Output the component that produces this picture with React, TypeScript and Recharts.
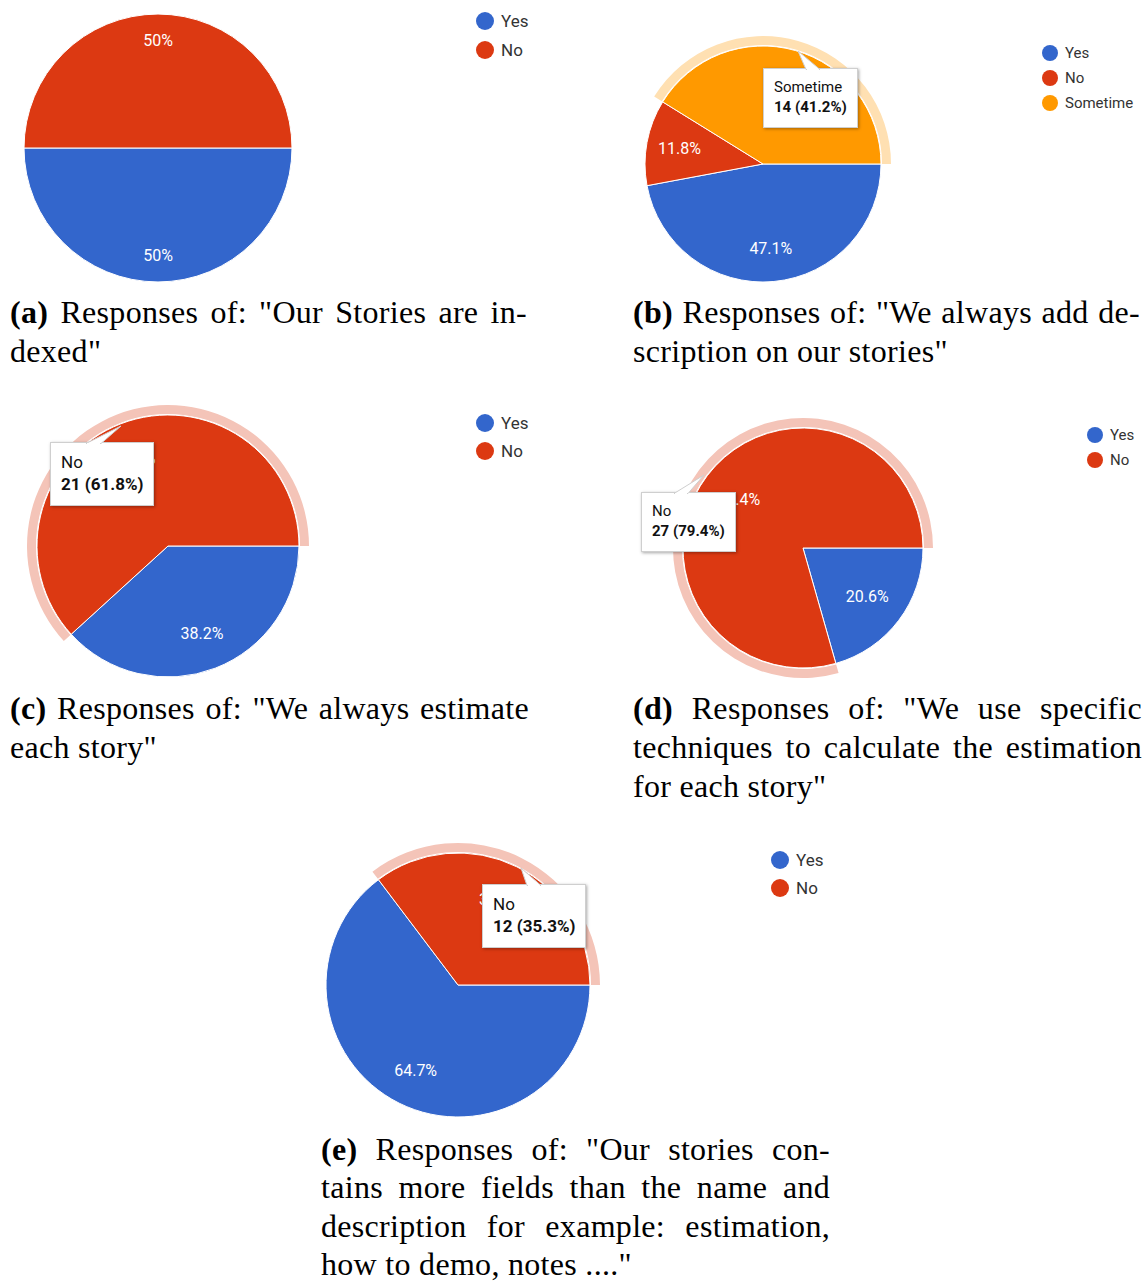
import React from 'react'
import { PieChart, Pie, Cell, Legend, Tooltip } from 'recharts'

// Google Forms palette
const BLUE = '#3366cc'
const RED = '#dc3912'
const ORANGE = '#ff9900'
const TINT: Record<string, string> = { [RED]: '#f4c4b8', [ORANGE]: '#ffe0b2' }

// (a) "Our Stories are indexed"
const indexedNames = ['Yes', 'No']
const indexedCounts = [17, 17]

// (b) "We always add description on our stories"
const descriptionNames = ['Yes', 'No', 'Sometime']
const descriptionCounts = [16, 4, 14]

// (c) "We always estimate each story"
const estimateNames = ['Yes', 'No']
const estimateCounts = [13, 21]

// (d) "We use specific techniques to calculate the estimation for each story"
const techniqueNames = ['Yes', 'No']
const techniqueCounts = [7, 27]

// (e) "Our stories contains more fields than the name and description ..."
const fieldsNames = ['Yes', 'No']
const fieldsCounts = [22, 12]

const CHART_FONT = 'Roboto, "Liberation Sans", Arial, sans-serif'
const RAD = Math.PI / 180

const pct = (v: number, total: number) => `${parseFloat(((v / total) * 100).toFixed(1))}%`

type Pointer = { base: [number, number]; tip: [number, number] }

interface PieBlockProps {
  names: string[]
  counts: number[]
  colors: string[]
  left: number
  top: number
  width: number
  height: number
  cx: number
  cy: number
  r: number
  labelRatio: number
  legendLeft: number
  legendTop: number
  legendFont: number
  legendRow: number
  dotR: number
  highlight?: number
  tipPos?: { x: number; y: number }
  tipFont?: number
  pointer?: Pointer
}

function PieBlock(props: PieBlockProps) {
  const { names, counts, colors, cx, cy, r, highlight } = props
  const data = names.map((name, i) => ({ name, count: counts[i] }))
  const total = counts.reduce((a, b) => a + b, 0)

  // eslint-disable-next-line @typescript-eslint/no-explicit-any
  const renderLabel = (p: any) => {
    const d = p.outerRadius * props.labelRatio
    const x = p.cx + d * Math.cos(-p.midAngle * RAD)
    const y = p.cy + d * Math.sin(-p.midAngle * RAD)
    return (
      <text x={x} y={y} fill="#fff" fontSize={16} fontFamily={CHART_FONT} textAnchor="middle" dominantBaseline="central">
        {pct(p.value, total)}
      </text>
    )
  }

  // legend follows the data order (the ring pie adds no entries of its own)
  const renderLegend = () => (
    <div style={{ fontFamily: CHART_FONT, fontSize: props.legendFont, color: '#333' }}>
      {names.map((n, i) => (
        <div key={n} style={{ display: 'flex', alignItems: 'center', height: props.legendRow }}>
          <svg width={props.dotR * 2} height={props.dotR * 2}>
            <circle cx={props.dotR} cy={props.dotR} r={props.dotR} fill={colors[i]} />
          </svg>
          <span style={{ marginLeft: 7 }}>{n}</span>
        </div>
      ))}
    </div>
  )

  const renderTip = () => {
    if (highlight === undefined || !props.pointer) return null
    const { base, tip } = props.pointer
    const fs = props.tipFont || 16
    return (
      <div
        style={{
          position: 'relative',
          background: '#fff',
          border: '1px solid #cfcfcf',
          boxShadow: '1px 1px 3px rgba(0,0,0,0.35)',
          padding: '8px 10px 10px 10px',
          fontFamily: CHART_FONT,
          fontSize: fs,
          lineHeight: `${fs + 5}px`,
          color: '#111',
          whiteSpace: 'nowrap',
        }}
      >
        <svg
          width={80}
          height={24}
          style={{ position: 'absolute', left: 0, top: -23, overflow: 'visible' }}
        >
          <polygon
            points={`${base[0]},23.5 ${tip[0]},${23 + tip[1]} ${base[1]},23.5`}
            fill="#fff"
            stroke="#cfcfcf"
            strokeWidth={1}
          />
          <line x1={base[0] + 1} y1={24} x2={base[1] - 1} y2={24} stroke="#fff" strokeWidth={2} />
        </svg>
        <div>{names[highlight]}</div>
        <div style={{ fontWeight: 'bold' }}>
          {counts[highlight]} ({((counts[highlight] / total) * 100).toFixed(1)}%)
        </div>
      </div>
    )
  }

  return (
    <div style={{ position: 'absolute', left: props.left, top: props.top }}>
      <PieChart width={props.width} height={props.height} margin={{ top: 0, right: 0, bottom: 0, left: 0 }}>
        {highlight !== undefined && (
          <Pie
            data={data}
            dataKey="count"
            nameKey="name"
            cx={cx}
            cy={cy}
            innerRadius={r + 1}
            outerRadius={r + 10}
            startAngle={0}
            endAngle={-360}
            stroke="none"
            legendType="none"
            isAnimationActive={false}
          >
            {data.map((_, i) => (
              <Cell key={i} fill={i === highlight ? TINT[colors[i]] : 'transparent'} />
            ))}
          </Pie>
        )}
        <Pie
          data={data}
          dataKey="count"
          nameKey="name"
          cx={cx}
          cy={cy}
          outerRadius={r}
          startAngle={0}
          endAngle={-360}
          stroke="#fff"
          strokeWidth={1}
          label={renderLabel}
          labelLine={false}
          isAnimationActive={false}
        >
          {data.map((_, i) => (
            <Cell key={i} fill={colors[i]} />
          ))}
        </Pie>
        <Legend
          layout="vertical"
          align="right"
          verticalAlign="middle"
          content={renderLegend}
          wrapperStyle={{ left: props.legendLeft, top: props.legendTop, right: 'auto', width: 'auto' }}
        />
        {highlight !== undefined && props.tipPos && (
          <Tooltip
            active
            defaultIndex={highlight}
            position={props.tipPos}
            content={renderTip}
            isAnimationActive={false}
            wrapperStyle={{ zIndex: 5, outline: 'none' }}
          />
        )}
      </PieChart>
    </div>
  )
}

interface CaptionProps {
  left: number
  top: number
  width: number
  tag: string
  lines: string[]
  lineHeight: number
}

function Caption({ left, top, width, tag, lines, lineHeight }: CaptionProps) {
  return (
    <div
      style={{
        position: 'absolute',
        left,
        top,
        width,
        fontFamily: '"Liberation Serif", "Times New Roman", serif',
        fontSize: 32,
        letterSpacing: 0.3,
        lineHeight: `${lineHeight}px`,
        color: '#000',
      }}
    >
      {lines.map((ln, i) => (
        <div key={i} style={{ textAlign: 'justify', textAlignLast: i < lines.length - 1 ? 'justify' : 'left' }}>
          {i === 0 && <b>({tag})</b>}
          {i === 0 ? ' ' + ln : ln}
        </div>
      ))}
    </div>
  )
}

export default function App() {
  return (
    <div style={{ position: 'absolute', left: 0, top: 0, width: 1148, height: 1282, background: '#fff', overflow: 'hidden' }}>
      <PieBlock
        names={indexedNames}
        counts={indexedCounts}
        colors={[BLUE, RED]}
        left={0}
        top={0}
        width={574}
        height={300}
        cx={158}
        cy={148}
        r={134}
        labelRatio={0.8}
        legendLeft={476}
        legendTop={6}
        legendFont={17}
        legendRow={29}
        dotR={9}
      />
      <PieBlock
        names={descriptionNames}
        counts={descriptionCounts}
        colors={[BLUE, RED, ORANGE]}
        left={574}
        top={0}
        width={574}
        height={300}
        cx={189}
        cy={164}
        r={118}
        labelRatio={0.72}
        legendLeft={468}
        legendTop={40}
        legendFont={15}
        legendRow={25}
        dotR={8}
        highlight={2}
        tipPos={{ x: 189, y: 68 }}
        tipFont={15}
        pointer={{ base: [42, 56], tip: [34, -18] }}
      />
      <PieBlock
        names={estimateNames}
        counts={estimateCounts}
        colors={[BLUE, RED]}
        left={0}
        top={390}
        width={574}
        height={300}
        cx={168}
        cy={156}
        r={131}
        labelRatio={0.72}
        legendLeft={476}
        legendTop={19}
        legendFont={17}
        legendRow={28}
        dotR={9}
        highlight={1}
        tipPos={{ x: 50, y: 52 }}
        tipFont={17}
        pointer={{ base: [35, 50], tip: [70, -17] }}
      />
      <PieBlock
        names={techniqueNames}
        counts={techniqueCounts}
        colors={[BLUE, RED]}
        left={574}
        top={390}
        width={574}
        height={300}
        cx={229}
        cy={158}
        r={120}
        labelRatio={0.67}
        legendLeft={513}
        legendTop={32}
        legendFont={15}
        legendRow={25}
        dotR={8}
        highlight={1}
        tipPos={{ x: 67, y: 102 }}
        tipFont={15}
        pointer={{ base: [32, 46], tip: [62, -18] }}
      />
      <PieBlock
        names={fieldsNames}
        counts={fieldsCounts}
        colors={[BLUE, RED]}
        left={300}
        top={830}
        width={560}
        height={300}
        cx={158}
        cy={155}
        r={132}
        labelRatio={0.72}
        legendLeft={471}
        legendTop={16}
        legendFont={17}
        legendRow={28}
        dotR={9}
        highlight={1}
        tipPos={{ x: 182, y: 54 }}
        tipFont={17}
        pointer={{ base: [44, 58], tip: [38, -17] }}
      />

      <Caption left={10} top={293} width={517} tag="a" lineHeight={39} lines={['Responses of: "Our Stories are in-', 'dexed"']} />
      <Caption left={633} top={293} width={507} tag="b" lineHeight={39} lines={['Responses of: "We always add de-', 'scription on our stories"']} />
      <Caption left={10} top={689} width={519} tag="c" lineHeight={39} lines={['Responses of: "We always estimate', 'each story"']} />
      <Caption
        left={633}
        top={689}
        width={509}
        tag="d"
        lineHeight={39}
        lines={['Responses of: "We use specific', 'techniques to calculate the estimation', 'for each story"']}
      />
      <Caption
        left={321}
        top={1130}
        width={509}
        tag="e"
        lineHeight={38.3}
        lines={[
          'Responses of: "Our stories con-',
          'tains more fields than the name and',
          'description for example: estimation,',
          'how to demo, notes ...."',
        ]}
      />
    </div>
  )
}
